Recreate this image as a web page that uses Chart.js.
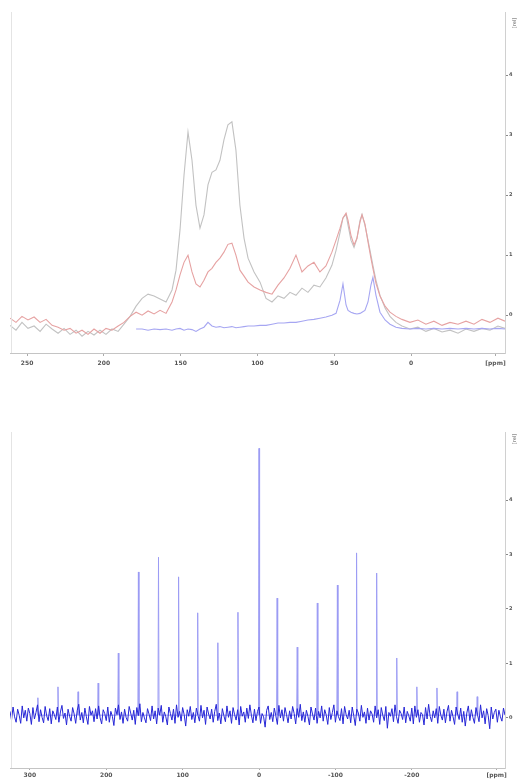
<!DOCTYPE html>
<html>
<head>
<meta charset="utf-8">
<script src="https://cdn.jsdelivr.net/npm/chart.js@4.4.0/dist/chart.umd.min.js"></script>
<style>
  html, body { margin: 0; padding: 0; background: #fff; }
  #wrap { position: relative; width: 520px; height: 780px; }
  canvas { position: absolute; left: 0; }
  #top { top: 0; }
  #bottom { top: 390px; }
</style>
</head>
<body>
<div id="wrap">
  <canvas id="top" width="520" height="390"></canvas>
  <canvas id="bottom" width="520" height="390"></canvas>
</div>
<script>
// ---- top spectrum (three overlaid traces) ----
const topPpm = [
  261.1, 257.2, 253.3, 249.4, 245.4, 241.5, 237.6, 233.7, 229.8, 225.9, 222.0, 218.1, 214.2, 210.3, 206.4, 202.5, 198.6, 194.7, 190.7, 186.9,
  182.9, 179.0, 175.1, 171.2, 167.3, 163.4, 159.5, 155.6,
  153.0, 150.4, 147.8, 145.2, 142.6, 140.0, 137.4, 134.8, 132.2, 129.6, 127.0, 124.4, 121.8, 119.2, 116.6, 114.0, 111.4, 108.7, 106.1,
  102.2, 98.3, 94.4, 90.5, 86.6, 82.7, 78.8, 74.9, 71.0, 67.1, 63.2, 59.3, 55.4, 51.5,
  48.8, 46.2, 44.3, 42.3, 41.0, 39.1, 37.1, 35.2, 33.2, 31.9, 30.0, 28.0, 26.1, 24.8, 22.8, 20.2, 16.9, 13.7, 9.8, 5.9,
  0.7, -4.5, -9.7, -14.9, -20.2, -25.4, -30.6, -35.8, -41.0, -46.2, -51.4, -56.6, -61.2
];
const topGray = [
  -0.17, -0.25, -0.12, -0.22, -0.18, -0.27, -0.15, -0.23, -0.30, -0.22, -0.32, -0.25, -0.35, -0.27, -0.33, -0.25, -0.32, -0.23, -0.27, -0.15,
  -0.02, 0.15, 0.28, 0.35, 0.32, 0.27, 0.22, 0.42,
  0.75, 1.42, 2.33, 3.05, 2.58, 1.83, 1.45, 1.67, 2.17, 2.38, 2.42, 2.58, 2.92, 3.17, 3.22, 2.75, 1.83, 1.28, 0.95,
  0.72, 0.55, 0.28, 0.22, 0.32, 0.28, 0.38, 0.33, 0.45, 0.38, 0.50, 0.47, 0.62, 0.83,
  1.08, 1.38, 1.62, 1.68, 1.50, 1.25, 1.13, 1.28, 1.58, 1.68, 1.50, 1.25, 1.00, 0.83, 0.58, 0.33, 0.12, -0.02, -0.12, -0.18,
  -0.23, -0.20, -0.27, -0.22, -0.28, -0.25, -0.30, -0.23, -0.27, -0.22, -0.25, -0.18, -0.22
];
const topRed = [
  -0.05, -0.12, -0.02, -0.08, -0.03, -0.12, -0.07, -0.17, -0.20, -0.25, -0.22, -0.30, -0.25, -0.32, -0.23, -0.30, -0.22, -0.25, -0.18, -0.12,
  -0.02, 0.05, 0.00, 0.07, 0.02, 0.08, 0.03, 0.22,
  0.42, 0.67, 0.88, 1.00, 0.72, 0.52, 0.47, 0.58, 0.72, 0.78, 0.88, 0.95, 1.05, 1.18, 1.20, 1.00, 0.75, 0.65, 0.55,
  0.47, 0.42, 0.38, 0.35, 0.50, 0.62, 0.78, 1.00, 0.72, 0.82, 0.88, 0.72, 0.82, 1.05,
  1.25, 1.45, 1.62, 1.70, 1.58, 1.33, 1.17, 1.28, 1.55, 1.67, 1.52, 1.22, 0.95, 0.78, 0.53, 0.32, 0.15, 0.05, -0.02, -0.07,
  -0.12, -0.08, -0.15, -0.10, -0.17, -0.12, -0.15, -0.10, -0.15, -0.07, -0.12, -0.05, -0.10
];
const topBlue = [
  null, null, null, null, null, null, null, null, null, null, null, null, null, null, null, null, null, null, null, null,
  null, -0.23, -0.23, -0.25, -0.23, -0.24, -0.23, -0.25,
  -0.23, -0.22, -0.25, -0.23, -0.24, -0.27, -0.23, -0.20, -0.12, -0.18, -0.20, -0.19, -0.21, -0.20, -0.19, -0.21, -0.20, -0.19, -0.18,
  -0.18, -0.17, -0.17, -0.15, -0.13, -0.13, -0.12, -0.12, -0.10, -0.08, -0.07, -0.05, -0.03, 0.00,
  0.03, 0.25, 0.52, 0.17, 0.08, 0.05, 0.03, 0.02, 0.03, 0.05, 0.08, 0.22, 0.50, 0.63, 0.33, 0.05, -0.08, -0.15, -0.20, -0.22,
  -0.23, -0.22, -0.23, -0.22, -0.23, -0.22, -0.23, -0.22, -0.23, -0.22, -0.23, -0.22, -0.23
];
const topXTicks = [250, 200, 150, 100, 50, 0, -55];
const topXLabels = ['250', '200', '150', '100', '50', '0', '[ppm]'];
const topYTicks = [0, 1, 2, 3, 4];
const topYLabels = ['0', '1', '2', '3', '4'];

// ---- bottom spectrum (centre band + spinning sidebands) ----
const spikePpm = [289.5, 263.2, 236.9, 210.6, 184.2, 157.9, 131.6, 105.3, 80.3, 53.9, 27.6, 0,
  -23.7, -50.0, -76.3, -102.6, -127.7, -154.0, -180.3, -206.6, -232.9, -259.3, -285.6];
const spikeHeight = [0.37, 0.57, 0.48, 0.64, 1.19, 2.68, 2.95, 2.59, 1.93, 1.38, 1.94, 4.95,
  2.20, 1.30, 2.11, 2.44, 3.03, 2.66, 1.10, 0.57, 0.55, 0.48, 0.39];
// baseline noise, sampled every 2 ppm starting at 326 ppm
const noiseStartPpm = 326;
const noiseStepPpm = -2;
const noiseValues = [
  0.12, -0.04, 0.2, 0.02, -0.08, 0.16, 0.05, -0.1, 0.22, 0.0, 0.14, -0.06, 0.18, 0.08, -0.12, 0.19, -0.02, 0.1, 0.24, -0.07,
  0.15, 0.01, -0.09, 0.21, 0.04, -0.05, 0.17, -0.11, 0.13, 0.06, -0.03, 0.2, -0.08, 0.11, 0.23, -0.01, 0.09, -0.13, 0.16, 0.03,
  -0.06, 0.19, 0.07, -0.1, 0.14, 0.25, -0.04, 0.1, -0.09, 0.18, 0.02, -0.12, 0.21, 0.05, 0.13, -0.07, 0.17, -0.02, 0.22, 0.0,
  -0.11, 0.15, 0.08, -0.05, 0.2, -0.08, 0.12, 0.03, -0.14, 0.18, 0.06, 0.24, -0.03, 0.11, -0.1, 0.16, 0.01, -0.06, 0.21, 0.09,
  -0.04, 0.14, -0.12, 0.19, 0.04, 0.26, -0.07, 0.1, 0.0, -0.09, 0.17, 0.07, -0.05, 0.22, -0.02, 0.13, -0.11, 0.18, 0.05, 0.23,
  -0.08, 0.11, 0.02, -0.13, 0.2, 0.08, -0.04, 0.16, -0.1, 0.24, 0.01, 0.12, -0.06, 0.19, 0.06, -0.15, 0.15, 0.03, 0.21, -0.03,
  0.1, -0.09, 0.18, 0.05, -0.06, 0.23, 0.0, 0.14, -0.12, 0.2, 0.07, -0.02, 0.16, -0.08, 0.12, 0.25, -0.05, 0.09, -0.11, 0.17,
  0.04, -0.07, 0.22, 0.01, 0.13, -0.1, 0.19, 0.06, -0.04, 0.15, -0.13, 0.21, 0.03, 0.11, -0.08, 0.18, -0.01, 0.24, 0.05, -0.09,
  0.16, -0.05, 0.12, 0.2, -0.1, 0.08, 0.02, -0.17, 0.14, 0.22, -0.03, 0.1, -0.07, 0.18, 0.04, -0.12, 0.23, 0.0, 0.15, -0.06,
  0.19, 0.06, -0.09, 0.13, -0.02, 0.21, 0.08, -0.11, 0.17, 0.01, 0.25, -0.05, 0.11, -0.08, 0.14, 0.03, -0.13, 0.2, 0.07, -0.04,
  0.18, -0.1, 0.12, 0.0, 0.22, -0.06, 0.15, 0.05, -0.12, 0.19, -0.03, 0.1, 0.24, -0.08, 0.13, 0.02, -0.05, 0.17, -0.11, 0.21,
  0.06, -0.02, 0.14, -0.09, 0.2, 0.04, -0.14, 0.16, 0.09, -0.06, 0.23, 0.01, 0.11, -0.1, 0.18, -0.04, 0.13, 0.07, -0.08, 0.22,
  0.0, 0.15, -0.12, 0.19, 0.05, -0.05, 0.21, -0.19, 0.1, 0.03, 0.17, -0.07, 0.24, 0.02, -0.1, 0.14, 0.08, -0.03, 0.2, -0.09,
  0.12, 0.04, -0.06, 0.18, -0.11, 0.22, 0.01, 0.15, -0.08, 0.1, 0.06, -0.13, 0.19, -0.02, 0.25, 0.03, -0.07, 0.13, 0.0, 0.17,
  -0.1, 0.21, 0.05, -0.04, 0.16, -0.09, 0.11, 0.23, -0.06, 0.14, 0.02, -0.12, 0.2, 0.07, -0.03, 0.18, -0.08, 0.12, -0.15, 0.09,
  0.22, -0.05, 0.15, 0.01, -0.1, 0.19, 0.06, -0.07, 0.24, 0.0, 0.13, -0.11, 0.17, 0.04, -0.2, 0.2, -0.02, 0.1, 0.16, -0.08,
  0.14, 0.02, -0.06, 0.18, 0.05
];
const spikeBase = 0.05;
const bottomXTicks = [300, 200, 100, 0, -100, -200, -311];
const bottomXLabels = ['300', '200', '100', '0', '-100', '-200', '[ppm]'];
const bottomYTicks = [0, 1, 2, 3, 4];
const bottomYLabels = ['0', '1', '2', '3', '4'];
const unitLabel = '[rel]';

const FONT = '"DejaVu Sans", sans-serif';

// faint left frame line + rotated unit label at the top of the right axis
const sidePlugin = {
  id: 'side',
  afterDraw(chart, args, opts) {
    const { ctx, chartArea } = chart;
    ctx.save();
    ctx.strokeStyle = '#e4e4e4';
    ctx.lineWidth = 1;
    ctx.beginPath();
    ctx.moveTo(chartArea.left + 1.5, chartArea.top);
    ctx.lineTo(chartArea.left + 1.5, chartArea.bottom);
    ctx.stroke();
    ctx.translate(chartArea.right + 10, chartArea.top + opts.unitOffset);
    ctx.rotate(-Math.PI / 2);
    ctx.font = '5px ' + FONT;
    ctx.fillStyle = '#555';
    ctx.textAlign = 'center';
    ctx.textBaseline = 'middle';
    ctx.fillText(unitLabel, 0, 0);
    ctx.restore();
  }
};

function makeChart(id, datasets, cfg) {
  return new Chart(document.getElementById(id), {
    type: 'line',
    data: { datasets },
    plugins: [sidePlugin],
    options: {
      responsive: false,
      animation: false,
      devicePixelRatio: 1,
      parsing: false,
      layout: { padding: cfg.padding },
      elements: { point: { radius: 0 }, line: { tension: 0 } },
      plugins: { legend: { display: false }, tooltip: { enabled: false }, side: { unitOffset: cfg.unitOffset } },
      scales: {
        x: {
          type: 'linear', reverse: true, min: cfg.xMin, max: cfg.xMax,
          afterBuildTicks: s => { s.ticks = cfg.xTicks.map(v => ({ value: v })); },
          afterFit: s => { s.height = cfg.xHeight; },
          grid: { drawOnChartArea: false, drawTicks: true, tickLength: cfg.tickLen, color: '#aaa' },
          border: { display: true, color: '#c4c4c4' },
          ticks: {
            autoSkip: false, maxRotation: 0, padding: cfg.tickPad,
            font: { family: FONT, size: 6, weight: 'bold' }, color: '#555',
            callback: (v, i) => cfg.xLabels[i]
          }
        },
        y: {
          type: 'linear', position: 'right', min: cfg.yMin, max: cfg.yMax,
          afterBuildTicks: s => { s.ticks = cfg.yTicks.map(v => ({ value: v })); },
          afterFit: s => { s.width = 15; },
          grid: { drawOnChartArea: false, drawTicks: true, tickLength: 3, color: '#888' },
          border: { display: true, color: '#d0d0d0' },
          ticks: {
            padding: 1, font: { family: FONT, size: 5, weight: 'bold' }, color: '#555',
            callback: (v, i) => cfg.yLabels[i]
          }
        }
      }
    }
  });
}

const pts = (xs, ys) => xs.map((x, i) => ({ x, y: ys[i] }));

makeChart('top', [
  { data: pts(topPpm, topBlue), borderColor: '#a6a6f2', borderWidth: 1.1, spanGaps: false },
  { data: pts(topPpm, topRed), borderColor: '#e6a2a2', borderWidth: 1.1 },
  { data: pts(topPpm, topGray), borderColor: '#c2c2c2', borderWidth: 1.1 }
], {
  padding: { left: 10, top: 12, right: 0, bottom: 17 },
  xMin: -61.2, xMax: 261.1, xTicks: topXTicks, xLabels: topXLabels, xHeight: 20, tickLen: 3, tickPad: 4,
  yMin: -0.63, yMax: 5.05, yTicks: topYTicks, yLabels: topYLabels, unitOffset: 11
});

const spikeData = [];
spikePpm.forEach((p, i) => {
  spikeData.push({ x: p + 0.7, y: spikeBase }, { x: p, y: spikeHeight[i] }, { x: p - 0.7, y: spikeBase });
});
const noiseData = noiseValues.map((v, i) => ({ x: noiseStartPpm + i * noiseStepPpm, y: v }));

makeChart('bottom', [
  { data: noiseData, borderColor: '#2626d6', borderWidth: 1 },
  { data: spikeData, borderColor: '#9c9cf4', borderWidth: 1 }
], {
  padding: { left: 10, top: 42, right: 0, bottom: 0 },
  xMin: -322, xMax: 326, xTicks: bottomXTicks, xLabels: bottomXLabels, xHeight: 12, tickLen: 2, tickPad: 2,
  yMin: -0.92, yMax: 5.25, yTicks: bottomYTicks, yLabels: bottomYLabels, unitOffset: 7
});
</script>
</body>
</html>
